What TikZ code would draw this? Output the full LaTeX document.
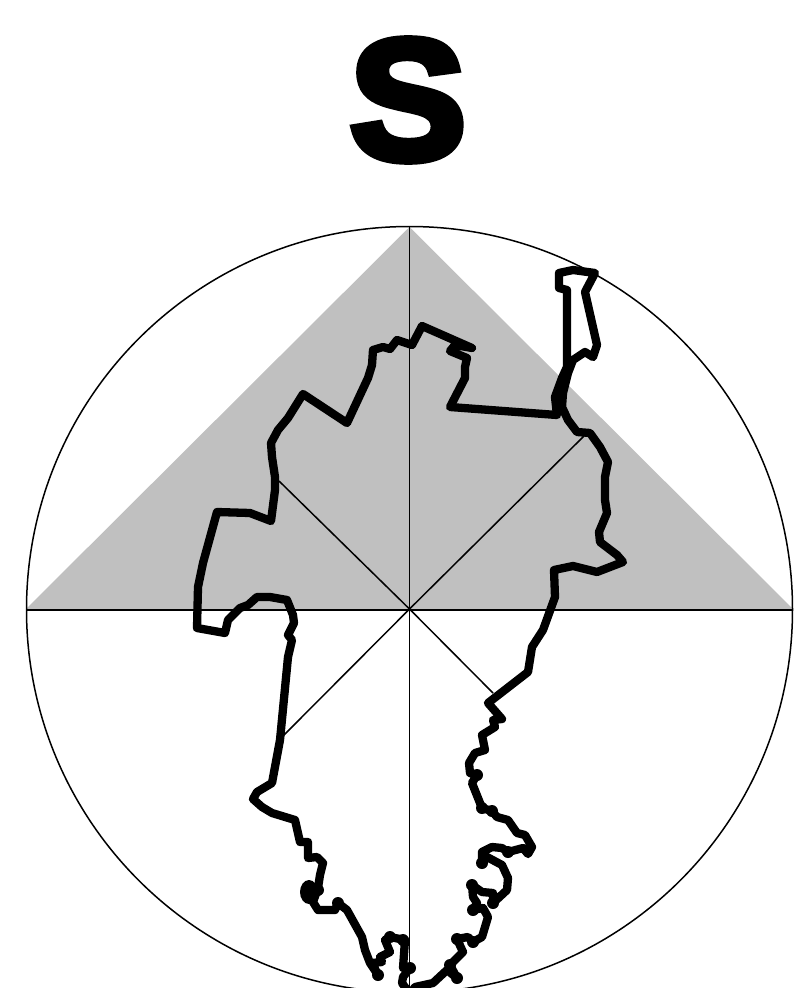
\documentclass[tikz,border=0pt]{standalone}
\usepackage{fontspec}
\newfontfamily\headfont[FakeBold=5,FakeStretch=1.02]{Liberation Sans Bold}
\tikzset{
  guide/.style={draw=black,line width=1.5pt},
  borderline/.style={draw=black,line width=8.3pt,line join=round,line cap=round},
  headletter/.style={inner sep=0pt,font=\headfont\fontsize{171}{171}\selectfont}
}
\begin{document}
\begin{tikzpicture}[x=1pt,y=-1pt]
\useasboundingbox (0,0) rectangle (808,988);
\clip (0,0) rectangle (808,988);
\fill[white] (0,0) rectangle (808,988);
\fill[fill={rgb,255:red,192;green,192;blue,192}] (26,609) -- (409.5,227) -- (793,609) -- cycle;
\draw[guide] (409.5,609.5) circle[radius=383];
\draw[guide] (409.5,227) -- (409.5,988);
\draw[draw=black,line width=2pt] (26,609.5) -- (793,609.5);
\draw[guide] (409.5,609) -- (279,481);
\draw[guide] (409.5,609) -- (584,436);
\draw[guide] (409.5,609) -- (283,736);
\draw[guide] (409.5,609) -- (493,693);
\node[headletter] (letter) at (408,100) {S};
\draw[borderline] (472,348) -- (455,345) -- (450,351) -- (467,358) -- (465,367) -- (465,378) -- (450,407) -- (557,415) -- (555,397) -- (562,378) -- (567,367) -- (567,330) -- (567,290) -- (559,288) -- (559,273) -- (573,270) -- (595,273) -- (585,292) -- (597,345) -- (593,357) -- (585,352) -- (573,360) -- (568,373) -- (563,393) -- (562,407) -- (568,420) -- (577,432) -- (590,433) -- (600,447) -- (608,462) -- (605,477) -- (605,500) -- (607,513) -- (599,532) -- (600,542) -- (617,555) -- (623,562) -- (597,572) -- (573,566) -- (554,570) -- (555,597) -- (543,630) -- (532,647) -- (528,672) -- (488,703) -- (502,719) -- (493,720) -- (495,727) -- (482,735) -- (485,750) -- (475,753) -- (469,763) -- (470,773) -- (477,775) -- (472,783) -- (482,808) -- (492,811) -- (497,817) -- (508,820) -- (517,833) -- (525,835) -- (532,847) -- (528,854) -- (523,848) -- (508,852) -- (502,848) -- (492,847) -- (482,852) -- (482,863) -- (487,857) -- (502,865) -- (508,878) -- (507,890) -- (493,903) -- (493,893) -- (482,892) -- (472,885) -- (473,897) -- (477,903) -- (473,910) -- (483,908) -- (488,917) -- (482,937) -- (473,942) -- (468,937) -- (457,939) -- (463,952) -- (450,965) -- (457,978) -- (447,970) -- (433,983) -- (415,987) -- (410,994) -- (402,983) -- (403,977) -- (410,968) -- (403,968) -- (405,940) -- (390,937) -- (385,940) -- (390,952) -- (380,957) -- (382,962) -- (372,963) -- (378,975) -- (370,963) -- (365,950) -- (362,937) -- (347,910) -- (338,903) -- (335,910) -- (318,910) -- (313,902) -- (318,888) -- (320,875) -- (323,863) -- (317,857) -- (308,858) -- (308,842) -- (300,842) -- (295,820) -- (272,813) -- (262,807) -- (253,799) -- (257,792) -- (272,783) -- (280,740) -- (288,657) -- (292,640) -- (288,635) -- (294,623) -- (293,615) -- (287,600) -- (270,597) -- (257,597) -- (248,605) -- (240,608) -- (228,620) -- (225,633) -- (197,628) -- (198,587) -- (203,563) -- (217,512) -- (250,513) -- (271,521) -- (275,490) -- (275,477) -- (272,457) -- (271,443) -- (278,430) -- (288,418) -- (303,394) -- (347,423) -- (368,378) -- (372,365) -- (373,350) -- (383,347) -- (390,349) -- (397,340) -- (412,345) -- (422,326) -- (472,348);
\fill[black] (309,892) ellipse[x radius=9,y radius=12];
\foreach \px/\py in {477/775,482/808,492/811,508/852,482/863,493/903,472/885,473/910,473/942,457/939,450/965,457/978,390/937,403/940,410/968,378/975,338/903,318/890}
  \fill[black] (\px,\py) circle[radius=6];
\end{tikzpicture}
\end{document}
